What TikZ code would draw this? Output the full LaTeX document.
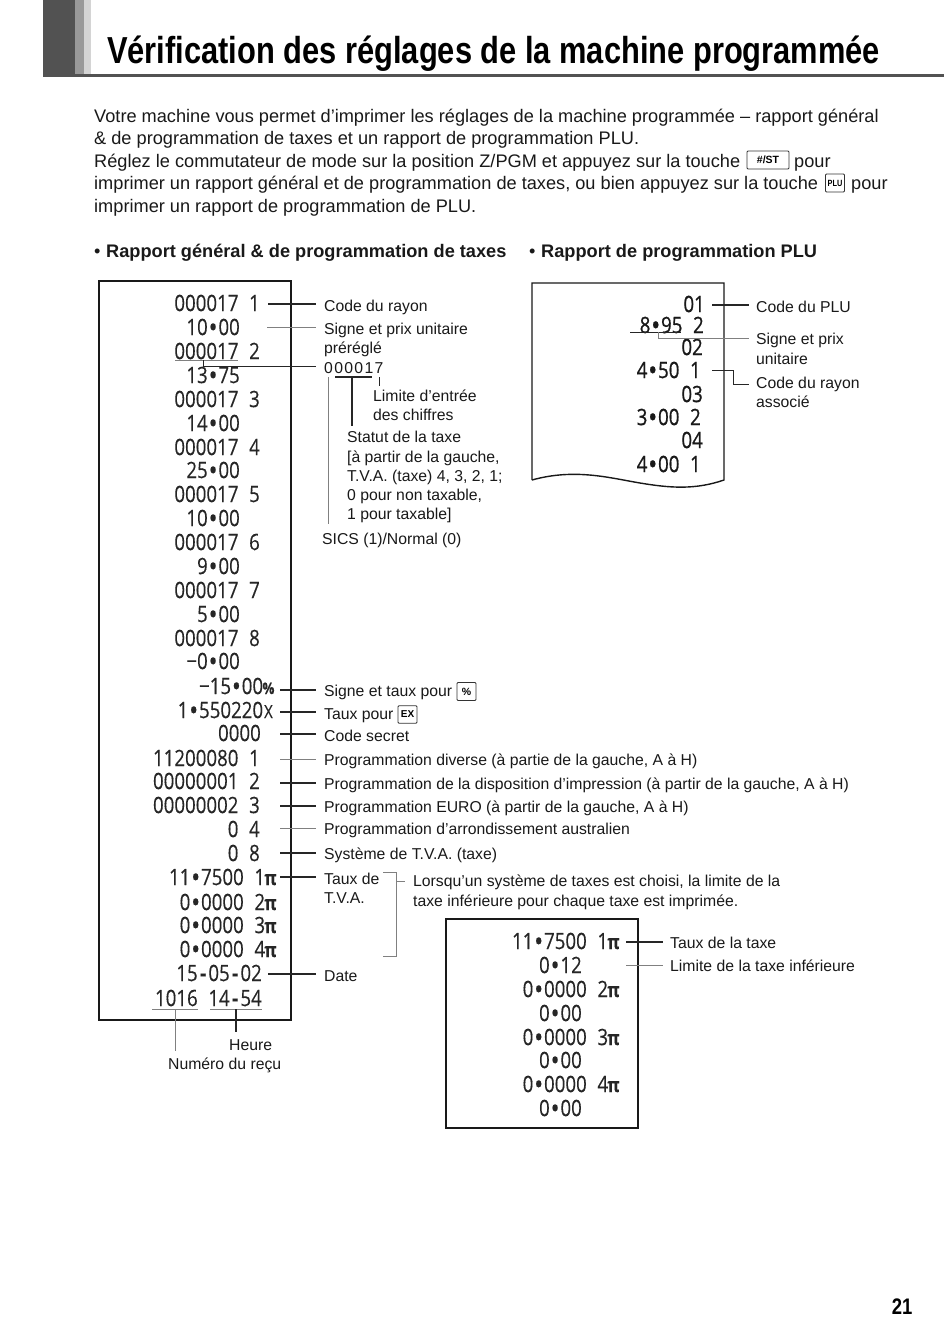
\documentclass[tikz,border=0pt]{standalone}
\usepackage{fontspec}
\setmainfont{Liberation Sans}
\newfontfamily\rcptfont[FakeStretch=0.83,FakeBold=0.25]{Open Sans}
\newfontfamily\rcptheavy[FakeStretch=0.83,FakeBold=0.8]{Open Sans}
\newfontfamily\titlefont[FakeStretch=0.82]{Liberation Sans}
\newcommand{\fs}[1]{\fontsize{#1pt}{#1pt}\selectfont}
% one receipt cell, as wide as a digit
\newcommand{\rC}[1]{\setbox0\hbox{0}\hbox to \wd0{\hss#1\hss}}
\newcommand{\rB}{\rC{\bfseries •}}
\newcommand{\rS}{\rC{}}
\newcommand{\rH}{\rC{\bfseries -}}
\newcommand{\rM}{\rC{−}}
\newcommand{\rP}{\rC{\bfseries\fs{20}π}}
\tikzset{
  rc/.style={anchor=east,inner sep=0pt,text=black!85,font=\rcptfont\fs{22.5}},
  rcb/.style={rc,text=black!90,font=\rcptheavy\fs{22.5}},
  body/.style={anchor=base west,inner sep=0pt,text=black!90,font=\fs{18.19}},
  lbl/.style={anchor=base west,inner sep=0pt,text=black!90,font=\fs{15.76}},
  head/.style={anchor=base west,inner sep=0pt,text=black!90,font=\bfseries\fs{18.19}},
  keycap/.style={draw=black!80,line width=0.9pt,rounded corners=1pt,inner sep=0pt,anchor=center,font=\bfseries\fs{#1}},
  strong/.style={draw=black!85,line width=1.1pt},
  faint/.style={draw=black!50,line width=0.8pt},
  frame/.style={draw=black!90,line width=1.6pt},
  lead/.style={shorten >=8pt}
}
\begin{document}
\begin{tikzpicture}[x=1pt,y=-1pt]
\useasboundingbox (0,0) rectangle (950,1342);
\fill[white] (0,0) rectangle (950,1342);
% header band
\fill[black!68] (43,0) rectangle (75,76.5);
\fill[black!40] (75,0) rectangle (84,74);
\fill[black!17] (84,0) rectangle (91,74);
\fill[black!68] (43,73.8) rectangle (944,76.8);
\node[anchor=base west,inner sep=0pt,font=\titlefont\bfseries\fs{37.6}] (title) at (107,63) {Vérification des réglages de la machine programmée};
% intro
\node[body] (p1) at (94,122) {Votre machine vous permet d’imprimer les réglages de la machine programmée – rapport général};
\node[body] (p2) at (94,144.5) {\& de programmation de taxes et un rapport de programmation PLU.};
\node[body] (p3) at (94,167) {Réglez le commutateur de mode sur la position Z/PGM et appuyez sur la touche};
\node[keycap=10.5,minimum width=42pt,minimum height=18pt] (kst) at (768,160) {\#/ST};
\node[body] (p3b) at (794,167) {pour};
\node[body] (p4) at (94,189.5) {imprimer un rapport général et de programmation de taxes, ou bien appuyez sur la touche};
\node[keycap=9,minimum width=19pt,minimum height=18pt] (kplu) at (835,183) {\titlefont\fs{9}PLU};
\node[body] (p4b) at (851,189.5) {pour};
\node[body] (p5) at (94,212) {imprimer un rapport de programmation de PLU.};
\node[head] (h1) at (94,257) {\makebox[12pt][l]{\mdseries•}Rapport général \& de programmation de taxes};
\node[head] (h2) at (529,257) {\makebox[12pt][l]{\mdseries•}Rapport de programmation PLU};
% left receipt
\draw[frame] (99,281) rectangle (291,1020);
\foreach \n/\y/\x/\t in {
 a/303/260/000017\rS1, b/327/240/10\rB00, c/351/260/000017\rS2, d/375/240/13\rB75,
 e/399/260/000017\rS3, f/423/240/14\rB00, g/447/260/000017\rS4, h/470/240/25\rB00,
 i/494/260/000017\rS5, j/518/240/10\rB00, k/542/260/000017\rS6, l/566/240/9\rB00,
 m/590/260/000017\rS7, n/614/240/5\rB00, o/638/260/000017\rS8, p/661/240/\rM0\rB00,
 s/733/261/0000, t/758/260/11200080\rS1, u/781/260/00000001\rS2, v/805/260/00000002\rS3,
 w/829/260/0\rS4, x/853/260/0\rS8, y/973/262/15\rH05\rH02, z/998/262/1016\rS14\rH54}
  {\node[rc] (L\n) at (\x,\y) {\t};}
\node[rc] (Lq) at (274,686) {\rM15\rB00\rC{\bfseries\fs{16}\%}};
\node[rc] (Lr) at (274,710) {1\rB550220\rC{\fs{18}X}};
\foreach \n/\y/\t in {A/877/11\rB7500\rS1, B/902/0\rB0000\rS2, C/925/0\rB0000\rS3, D/949/0\rB0000\rS4}
  {\node[rc] (L\n) at (276,\y) {\t\rP};}
% right receipt
\draw[frame,line width=1.4pt] (532,480) -- (532,283) -- (724,283) -- (724,480)
  .. controls (695,490) and (670,488) .. (640,483)
  .. controls (610,478) and (575,468) .. (532,480);
\foreach \n/\y/\x/\t in {a/304/705/01, b/325/704/8\rB95\rS2, c/347/703/02, d/370/701/4\rB50\rS1,
  e/394/703/03, f/417/701/3\rB00\rS2, g/440/703/04, h/464/701/4\rB00\rS1}
  {\node[rcb] (P\n) at (\x,\y) {\t};}
% lower receipt
\draw[frame,line width=1.4pt] (446,919) rectangle (638,1128);
\foreach \n/\y/\x/\t in {a/941/619/11\rB7500\rS1\rP, b/965/582/0\rB12, c/989/619/0\rB0000\rS2\rP,
  d/1013/582/0\rB00, e/1037/619/0\rB0000\rS3\rP, f/1060/582/0\rB00, g/1084/619/0\rB0000\rS4\rP, h/1108/582/0\rB00}
  {\node[rc] (T\n) at (\x,\y) {\t};}
% labels, left
\node[lbl] (a1) at (324,311) {Code du rayon};
\node[lbl] (a2) at (324,334) {Signe et prix unitaire};
\node[lbl] (a3) at (324,353) {préréglé};
\node[lbl] (a4) at (324,373) {\addfontfeatures{LetterSpace=8.5}000017};
\node[lbl] (a5) at (373,401) {Limite d’entrée};
\node[lbl] (a6) at (373,420.5) {des chiffres};
\node[lbl] (a7) at (347,442.5) {Statut de la taxe};
\node[lbl] (a8) at (347,462) {[à partir de la gauche,};
\node[lbl] (a9) at (347,481) {T.V.A. (taxe) 4, 3, 2, 1;};
\node[lbl] (a10) at (347,500) {0 pour non taxable,};
\node[lbl] (a11) at (347,519.5) {1 pour taxable]};
\node[lbl] (a12) at (322,544.5) {SICS (1)/Normal (0)};
\node[lbl] (b1) at (324,696) {Signe et taux pour};
\node[keycap=10.5,minimum width=19pt,minimum height=18pt] (kpc) at (466.5,691.5) {\%};
\node[lbl] (b2) at (324,719) {Taux pour};
\node[keycap=10,minimum width=19pt,minimum height=17.5pt] (kex) at (407.5,714.5) {EX};
\node[lbl] (b3) at (324,741.5) {Code secret};
\node[lbl] (b4) at (324,765.5) {Programmation diverse (à partie de la gauche, A à H)};
\node[lbl] (b5) at (324,789) {Programmation de la disposition d’impression (à partir de la gauche, A à H)};
\node[lbl] (b6) at (324,812.5) {Programmation EURO (à partir de la gauche, A à H)};
\node[lbl] (b7) at (324,834.5) {Programmation d’arrondissement australien};
\node[lbl] (b8) at (324,859.5) {Système de T.V.A. (taxe)};
\node[lbl] (b9) at (324,884) {Taux de};
\node[lbl] (b10) at (324,903) {T.V.A.};
\node[lbl] (b11) at (324,981) {Date};
\node[lbl] (n1) at (413,886) {Lorsqu’un système de taxes est choisi, la limite de la};
\node[lbl] (n2) at (413,906) {taxe inférieure pour chaque taxe est imprimée.};
\node[lbl] (e1) at (229,1050) {Heure};
\node[lbl] (e2) at (168,1069) {Numéro du reçu};
% labels, right
\node[lbl] (c1) at (756,312) {Code du PLU};
\node[lbl] (c2) at (756,344.5) {Signe et prix};
\node[lbl] (c3) at (756,364) {unitaire};
\node[lbl] (c4) at (756,388) {Code du rayon};
\node[lbl] (c5) at (756,407) {associé};
\node[lbl] (d1) at (670,948.5) {Taux de la taxe};
\node[lbl] (d2) at (670,971) {Limite de la taxe inférieure};
% connector start points
\foreach \n/\x/\y in {sa/268/304, sb/267/327, sc/203/366, sq/280/690, sr/280/712, ss/280/734,
  st/280/759, su/280/783, sv/280/806, sw/280/828, sx/280/853, sA/280/877, sy/268/974,
  pa/712/305, pc/658/338, pd/712/370, ta/626/942, tb/626/965}
  {\coordinate (\n) at (\x,\y);}
% straight leaders
\foreach \s/\t in {sa/a1, sr/b2, ss/b3, su/b5, sv/b6, sx/b8, sA/b9, sy/b11}
  {\draw[strong,lead] (\s) -- (\s -| \t.west);}
\draw[strong,lead] (sq) -- (sq -| b1.west);
\foreach \s/\t in {sb/a2, st/b4, sw/b7}
  {\draw[faint,lead] (\s) -- (\s -| \t.west);}
\draw[strong,shorten >=7pt] (pa) -- (pa -| c1.west);
\draw[strong,shorten >=7pt] (ta) -- (ta -| d1.west);
\draw[faint,shorten >=7pt] (tb) -- (tb -| d2.west);
% 000017 detail
\coordinate (u1) at (175,360); \coordinate (u2) at (238,360);
\draw[faint] (u1) -- (u2);
\draw[strong,line width=0.9pt,lead] (203,360) -- (sc) -- (sc -| a4.west);
\coordinate (v1) at (335,377); \coordinate (v2) at (372,377); \coordinate (v3) at (352,377);
\draw[strong] (v1) -- (v2);
\draw[strong,line width=1.2pt] (v3) -- (352,426);
\coordinate (w1) at (379,377);
\draw[strong,line width=0.8pt] (w1) -- (379,386);
\coordinate (x1) at (328,377);
\draw[faint] (x1) -- (328,524);
% PLU detail
\coordinate (y1) at (630,332); \coordinate (y2) at (681,332);
\draw[strong,line width=0.9pt] (y1) -- (y2);
\draw[faint,shorten >=7pt] (658,332) -- (pc) -- (pc -| c2.west);
\draw[strong,line width=0.9pt,shorten >=7pt] (pd) -- (733,370) -- (733,384) -- (733,384 -| c4.west);
% bracket
\coordinate (br1) at (383,872); \coordinate (br2) at (396,872); \coordinate (br3) at (396,956); \coordinate (br4) at (383,956);
\draw[faint] (br1) -- (br2) -- (br3) -- (br4);
\coordinate (br5) at (396,881);
\draw[faint] (br5) -- (405,881);
% bottom detail
\coordinate (z1) at (152,1009); \coordinate (z2) at (198,1009); \coordinate (z3) at (210,1009); \coordinate (z4) at (262,1009);
\draw[faint] (z1) -- (z2);
\draw[faint] (z3) -- (z4);
\draw[faint] (175,1009) -- (175,1051);
\draw[strong,line width=1.3pt] (236,1009) -- (236,1032);
% page number
\node[anchor=base east,inner sep=0pt,font=\titlefont\bfseries\fs{22.5}] (pg) at (912.5,1314) {21};
\end{tikzpicture}
\end{document}
